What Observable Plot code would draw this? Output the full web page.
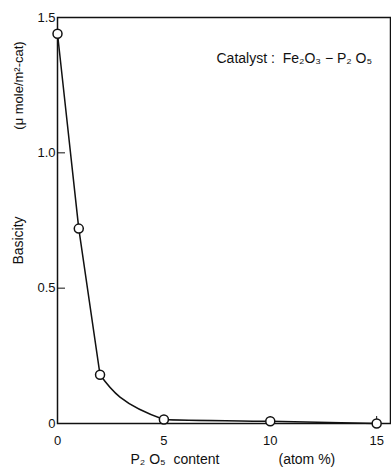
<!DOCTYPE html>
<html>
<head>
<meta charset="utf-8">
<script src="https://cdn.jsdelivr.net/npm/d3@7"></script>
<script src="https://cdn.jsdelivr.net/npm/@observablehq/plot@0.6"></script>
<style>
  html, body { margin: 0; padding: 0; background: #fff; }
  svg { display: block; }
</style>
</head>
<body>
<div id="chart"></div>
<script>
const p2o5Content = [0, 1, 2, 5, 10, 15];
const basicity = [1.44, 0.72, 0.18, 0.015, 0.008, 0];
const xTicks = [0, 5, 10, 15];
const yTicks = [0, 0.5, 1.0, 1.5];
const yTickLabels = ["0", "0.5", "1.0", "1.5"];

const data = p2o5Content.map((x, i) => ({x, y: basicity[i]}));
const steepPart = data.filter(d => d.x <= 2);
const tailPart = data.filter(d => d.x >= 2);
const font = "'Liberation Sans', Arial, sans-serif";

const chart = Plot.plot({
  width: 391,
  height: 473,
  marginLeft: 57,
  marginRight: 1,
  marginTop: 17,
  marginBottom: 50,
  style: {fontFamily: font, fontSize: "13px", color: "#111", background: "#fff"},
  x: {domain: [0, 15.65]},
  y: {domain: [0, 1.5]},
  marks: [
    Plot.frame({stroke: "#111", strokeWidth: 1.5}),
    Plot.axisX({ticks: xTicks, tickSize: -7, tickPadding: 19, label: null, tickFormat: d => String(d), fontSize: 13}),
    Plot.axisY({ticks: yTicks, tickSize: -8, tickPadding: 10, label: null, tickFormat: d => yTickLabels[yTicks.indexOf(d)], fontSize: 13}),
    Plot.line(steepPart, {x: "x", y: "y", curve: "linear", stroke: "#111", strokeWidth: 1.5}),
    Plot.line(tailPart, {x: "x", y: "y", curve: "monotone-y", stroke: "#111", strokeWidth: 1.5}),
    Plot.dot(data, {x: "x", y: "y", r: 4.5, fill: "#fff", stroke: "#111", strokeWidth: 1.5}),
    Plot.text(["Catalyst :  Fe\u2082O\u2083 \u2212 P\u2082 O\u2085"], {frameAnchor: "top-left", dx: 159, dy: 36, textAnchor: "start", fontSize: 14, fill: "#111"}),
    Plot.text(["Basicity"], {frameAnchor: "top-left", dx: -44, dy: 223, rotate: -90, textAnchor: "middle", fontSize: 14, fill: "#111"}),
    Plot.text(["(\u03bc mole/m\u00b2-cat)"], {frameAnchor: "top-left", dx: -44, dy: 68, rotate: -90, textAnchor: "middle", fontSize: 13, fill: "#111"}),
    Plot.text(["P\u2082 O\u2085  content"], {frameAnchor: "bottom-left", dx: 73, dy: 40, textAnchor: "start", fontSize: 14, fill: "#111"}),
    Plot.text(["(atom %)"], {frameAnchor: "bottom-left", dx: 221, dy: 40, textAnchor: "start", fontSize: 14, fill: "#111"})
  ]
});
document.getElementById("chart").appendChild(chart);
</script>
</body>
</html>
